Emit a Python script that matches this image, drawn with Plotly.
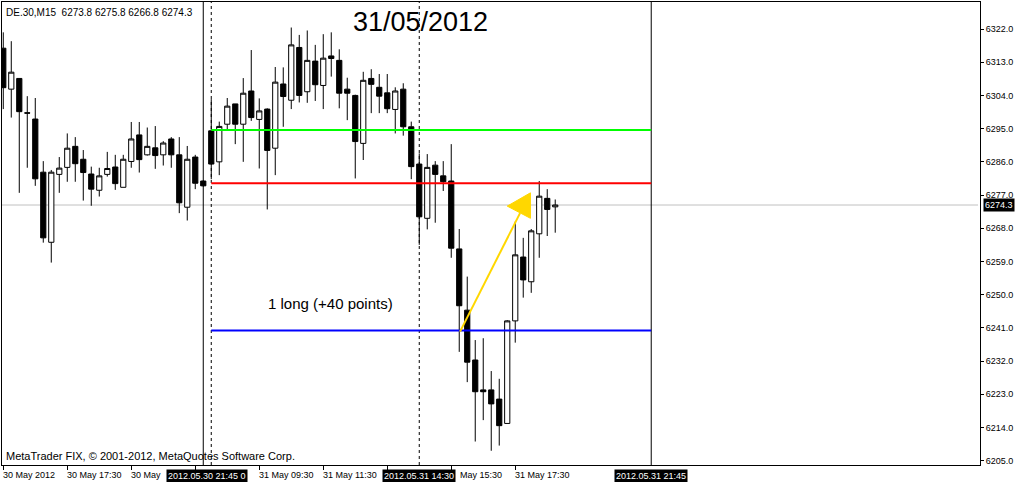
import plotly.graph_objects as go

# ---------------- data (DE.30, M15, 30-31 May 2012) ----------------
bar_index = list(range(70))
opens = [6316.8, 6305.7, 6308.6, 6299.3, 6297.6, 6283.2, 6264.2, 6282.6, 6284.5, 6290.2,
         6286.7, 6282.7, 6278.3, 6282.6, 6284.6, 6279.1, 6286.1, 6293.3, 6287.9, 6289.8,
         6287.9, 6292.2, 6287.9, 6273.7, 6287.3, 6280.8, 6294.4, 6286.0, 6296.2, 6301.7,
         6296.2, 6305.2, 6297.5, 6300.3, 6289.7, 6307.1, 6302.7, 6317.0, 6305.0, 6313.3,
         6306.7, 6314.7, 6313.5, 6305.7, 6304.0, 6291.0, 6308.6, 6306.2, 6304.7, 6300.2,
         6305.7, 6295.5, 6285.4, 6270.7, 6285.1, 6282.2, 6280.8, 6262.4, 6245.8, 6232.3,
         6224.2, 6224.2, 6221.7, 6215.1, 6242.9, 6260.2, 6253.5, 6266.5, 6276.1, 6273.8]
highs = [6321.1, 6318.7, 6308.6, 6303.8, 6303.3, 6286.2, 6283.8, 6287.3, 6293.7, 6292.7,
         6289.2, 6284.7, 6284.4, 6288.7, 6287.9, 6287.9, 6296.8, 6296.8, 6295.3, 6295.7,
         6291.6, 6292.7, 6292.7, 6290.3, 6287.9, 6281.0, 6303.0, 6296.9, 6303.3, 6301.7,
         6308.7, 6316.3, 6303.2, 6300.5, 6311.7, 6311.6, 6322.4, 6320.4, 6321.6, 6317.7,
         6320.6, 6321.1, 6316.5, 6308.8, 6304.2, 6310.4, 6311.1, 6309.8, 6309.8, 6306.2,
         6307.3, 6296.9, 6288.3, 6288.1, 6286.2, 6286.2, 6290.8, 6267.8, 6254.9, 6237.7,
         6238.2, 6229.3, 6227.2, 6243.1, 6269.8, 6265.4, 6267.8, 6280.8, 6278.6, 6275.8]
lows = [6300.3, 6298.0, 6277.6, 6284.4, 6279.5, 6264.1, 6258.7, 6277.6, 6280.6, 6280.6,
        6275.5, 6274.1, 6276.6, 6282.0, 6278.4, 6279.1, 6284.4, 6283.1, 6287.7, 6284.1,
        6285.0, 6284.4, 6272.1, 6270.1, 6278.6, 6279.3, 6281.3, 6282.4, 6294.9, 6290.8,
        6286.0, 6297.1, 6284.2, 6273.1, 6282.4, 6295.5, 6300.3, 6302.1, 6302.0, 6302.5,
        6300.3, 6309.1, 6300.5, 6297.3, 6281.5, 6286.5, 6299.2, 6299.2, 6299.2, 6293.7,
        6293.1, 6281.3, 6263.5, 6267.7, 6269.5, 6278.1, 6260.0, 6234.5, 6226.3, 6210.2,
        6216.0, 6207.7, 6209.1, 6215.1, 6237.0, 6249.2, 6250.5, 6260.0, 6265.9, 6266.8]
closes = [6306.1, 6310.3, 6299.6, 6299.2, 6281.4, 6265.4, 6283.2, 6284.3, 6289.7, 6285.5,
          6283.1, 6278.6, 6282.2, 6284.2, 6280.1, 6286.7, 6292.2, 6286.6, 6290.2, 6287.7,
          6291.1, 6287.9, 6274.9, 6286.7, 6280.2, 6279.5, 6285.4, 6295.6, 6301.1, 6296.2,
          6304.6, 6298.0, 6299.8, 6289.1, 6307.6, 6303.7, 6317.7, 6304.0, 6313.5, 6306.9,
          6314.1, 6314.0, 6304.6, 6304.6, 6291.5, 6308.1, 6307.0, 6303.8, 6300.4, 6305.2,
          6295.5, 6284.7, 6271.1, 6284.5, 6282.6, 6280.6, 6262.6, 6247.0, 6231.7, 6223.7,
          6223.7, 6220.4, 6214.5, 6242.9, 6260.8, 6254.0, 6267.3, 6276.7, 6273.1, 6274.3]

# time-axis ticks (every 8 bars) and the part of each label left visible
time_tick_bars = [0, 8, 16, 24, 32, 40, 48, 56, 64]
time_label_bars = [0, 8, 16, 32, 40, 56, 64]
time_label_texts = ["30 May 2012", "30 May 17:30", "30 May", "31 May 09:30",
                    "31 May 11:30", "May 15:30", "31 May 17:30"]
time_label_shift = [0, 0, 0, 0, 0, 9, 0]

price_ticks = [6205, 6214, 6223, 6232, 6241, 6250, 6259, 6268, 6277,
               6286, 6295, 6304, 6313, 6322]
price_tick_labels = ["%.1f" % v for v in price_ticks]

last_price = 6274.3
header_text = "DE.30,M15  6273.8 6275.8 6266.8 6274.3"

# objects drawn on the chart
vline_solid_bars = [25, 81]
vline_dashed_bars = [26, 52]
vline_label_bars = [25.5, 52, 81]
vline_label_texts = ["2012.05.30 21:45 0", "2012.05.31 14:30", "2012.05.31 21:45"]

hline_start_bar = 26
hline_end_bar = 81
hline_levels = [6294.6, 6280.2, 6240.3]
hline_colors = ["#00FF00", "#FF0000", "#0000FF"]

arrow_start = (57.1, 6240.0)
arrow_end = (64.6, 6272.1)
arrow_head = [(63.0, 6274.0), (65.9, 6277.6), (65.9, 6270.7)]

title_text = "31/05/2012"
title_pos = (52.1, 6323.9)
note_text = "1 long (+40 points)"
note_pos = (32.9, 6247.7)
footer_text = "MetaTrader FIX, © 2001-2012, MetaQuotes Software Corp."

FONT = "Liberation Sans, Arial, sans-serif"

# ---------------- figure ----------------
fig = go.Figure()
fig.add_trace(go.Candlestick(
    x=bar_index, open=opens, high=highs, low=lows, close=closes,
    increasing=dict(line=dict(color="black", width=1), fillcolor="white"),
    decreasing=dict(line=dict(color="black", width=1), fillcolor="black"),
    whiskerwidth=0, hoverinfo="skip", showlegend=False,
))

shapes = []
# current price line (behind candles)
shapes.append(dict(type="line", xref="paper", x0=0, x1=0.998, yref="y",
                   y0=last_price, y1=last_price, layer="below",
                   line=dict(color="#C0C0C0", width=1)))
for b in vline_solid_bars:
    shapes.append(dict(type="line", xref="x", x0=b, x1=b, yref="paper", y0=0, y1=1,
                       layer="above", line=dict(color="black", width=1)))
for b in vline_dashed_bars:
    shapes.append(dict(type="line", xref="x", x0=b, x1=b, yref="paper", y0=0, y1=1,
                       layer="above", line=dict(color="black", width=1, dash="3px,3px")))
for lvl, col in zip(hline_levels, hline_colors):
    shapes.append(dict(type="line", xref="x", x0=hline_start_bar, x1=hline_end_bar,
                       yref="y", y0=lvl, y1=lvl, layer="above",
                       line=dict(color=col, width=2)))
# yellow arrow
shapes.append(dict(type="line", xref="x", yref="y",
                   x0=arrow_start[0], y0=arrow_start[1], x1=arrow_end[0], y1=arrow_end[1],
                   layer="above", line=dict(color="#FFD700", width=2)))
head_path = "M {} {} L {} {} L {} {} Z".format(arrow_head[0][0], arrow_head[0][1],
                                               arrow_head[1][0], arrow_head[1][1],
                                               arrow_head[2][0], arrow_head[2][1])
shapes.append(dict(type="path", xref="x", yref="y", path=head_path, layer="above",
                   fillcolor="#FFD700", line=dict(color="#FFD700", width=1)))

annotations = []
# time axis labels
for b, t, s in zip(time_label_bars, time_label_texts, time_label_shift):
    annotations.append(dict(x=b, xref="x", y=0, yref="paper", text=t, showarrow=False,
                            xanchor="left", yanchor="top", yshift=-4, xshift=-1 + s,
                            borderpad=0, font=dict(family=FONT, size=9, color="black")))
# highlighted vertical-line labels
for b, t in zip(vline_label_bars, vline_label_texts):
    annotations.append(dict(x=b, xref="x", y=0, yref="paper", text=t, showarrow=False,
                            xanchor="center", yanchor="top", yshift=-4,
                            bgcolor="black", borderpad=1,
                            font=dict(family=FONT, size=9, color="white")))
# current price label
annotations.append(dict(x=1, xref="paper", y=last_price, yref="y", text="%.1f" % last_price,
                        showarrow=False, xanchor="left", yanchor="middle", xshift=3,
                        bgcolor="black", borderpad=1,
                        font=dict(family=FONT, size=9, color="white")))
# header / footer
annotations.append(dict(x=0, xref="paper", y=1, yref="paper", text=header_text,
                        showarrow=False, xanchor="left", yanchor="top", xshift=2, yshift=-3,
                        font=dict(family=FONT, size=10, color="black")))
annotations.append(dict(x=0, xref="paper", y=0, yref="paper", text=footer_text,
                        showarrow=False, xanchor="left", yanchor="bottom", xshift=2, yshift=1,
                        font=dict(family=FONT, size=11, color="black")))
# title and note
annotations.append(dict(x=title_pos[0], xref="x", y=title_pos[1], yref="y", text=title_text,
                        showarrow=False, xanchor="center", yanchor="middle",
                        font=dict(family=FONT, size=27, color="black")))
annotations.append(dict(x=note_pos[0], xref="x", y=note_pos[1], yref="y", text=note_text,
                        showarrow=False, xanchor="left", yanchor="middle",
                        font=dict(family=FONT, size=15, color="black")))

fig.update_layout(
    width=1018, height=482,
    margin=dict(l=2, r=38, t=2, b=17, pad=0),
    paper_bgcolor="white", plot_bgcolor="white",
    boxgap=0.35, boxgroupgap=0,
    shapes=shapes, annotations=annotations,
    showlegend=False, hovermode=False,
    xaxis=dict(range=[-0.16, 122.1], rangeslider=dict(visible=False),
               showgrid=False, zeroline=False, showline=True, mirror=True,
               linecolor="black", linewidth=1,
               tickmode="array", tickvals=time_tick_bars, ticktext=[""] * len(time_tick_bars),
               ticks="outside", ticklen=4, tickcolor="black", showticklabels=False),
    yaxis=dict(range=[6203.84, 6329.32], side="right",
               showgrid=False, zeroline=False, showline=True, mirror=True,
               linecolor="black", linewidth=1,
               tickmode="array", tickvals=price_ticks, ticktext=price_tick_labels,
               ticks="outside", ticklen=3, tickcolor="black",
               tickfont=dict(family=FONT, size=9, color="black")),
)

fig.write_html("out.html", config={"displayModeBar": False},
               post_script="document.body.style.margin='0';document.body.style.padding='0';"
                           "document.body.style.overflow='hidden';")
